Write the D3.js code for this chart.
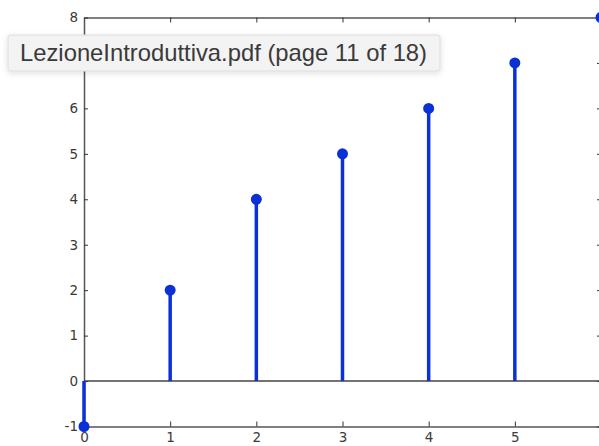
<!DOCTYPE html>
<html><head><meta charset="utf-8">
<script src="https://cdn.jsdelivr.net/npm/d3@7"></script>
<style>html,body{margin:0;padding:0;background:#fff;}svg{display:block;}</style>
</head><body>
<script>
const xValues = [0, 1, 2, 3, 4, 5, 6];
const yValues = [-1, 2, 4, 5, 6, 7, 8];
const xTicks = [0, 1, 2, 3, 4, 5, 6];
const xTickLabels = ["0", "1", "2", "3", "4", "5", ""];
const yTicks = [-1, 0, 1, 2, 3, 4, 5, 6, 7, 8];
const yTickLabels = ["-1", "0", "1", "2", "3", "4", "5", "6", "", "8"];
const tooltipText = "LezioneIntroduttiva.pdf (page 11 of 18)";

const W = 599, H = 446;
const svg = d3.select("body").append("svg").attr("width", W).attr("height", H);
const x = d3.scaleLinear().domain([0, 6]).range([84, 601]);
const y = d3.scaleLinear().domain([-1, 8]).range([426.5, 17.5]);
const axisColor = "#555";
const blue = "#0b30d6";

const gB = svg.append("g").attr("transform", `translate(0,${y(-1)})`)
  .call(d3.axisBottom(x).tickValues(xTicks).tickFormat((d, i) => xTickLabels[i]).tickSizeInner(-5).tickSizeOuter(0).tickPadding(6));
const gT = svg.append("g").attr("transform", `translate(0,${y(8)})`)
  .call(d3.axisTop(x).tickValues(xTicks).tickFormat("").tickSizeInner(-5).tickSizeOuter(0));
const gL = svg.append("g").attr("transform", `translate(${x(0)},0)`)
  .call(d3.axisLeft(y).tickValues(yTicks).tickFormat((d, i) => yTickLabels[i]).tickSizeInner(-4).tickSizeOuter(0).tickPadding(6));
const gR = svg.append("g").attr("transform", `translate(${x(6)},0)`)
  .call(d3.axisRight(y).tickValues(yTicks).tickFormat("").tickSizeInner(-4).tickSizeOuter(0));
[gB, gT, gL, gR].forEach(g => {
  g.attr("font-size", 13.5);
  g.select(".domain").attr("stroke", axisColor).attr("stroke-width", 1.5);
  g.selectAll(".tick line").attr("stroke", "#333").attr("stroke-width", 1);
  g.selectAll(".tick text").attr("fill", "#3a3a3a").attr("font-family", "DejaVu Sans, Arial, sans-serif").attr("font-size", 13.5);
});

svg.append("line").attr("x1", x(0)).attr("x2", x(6)).attr("y1", y(0)).attr("y2", y(0))
  .attr("stroke", "#444").attr("stroke-width", 1.5);

const data = xValues.map((v, i) => ({x: v, y: yValues[i]}));
svg.append("g").selectAll("line").data(data).join("line")
  .attr("x1", d => x(d.x)).attr("x2", d => x(d.x))
  .attr("y1", y(0)).attr("y2", d => y(d.y))
  .attr("stroke", blue).attr("stroke-width", 3.5);
svg.append("g").selectAll("circle").data(data).join("circle")
  .attr("cx", d => x(d.x)).attr("cy", d => y(d.y)).attr("r", 4.5)
  .attr("fill", blue).attr("stroke", blue).attr("stroke-width", 2);

const defs = svg.append("defs");
const f = defs.append("filter").attr("id", "sh").attr("x", "-10%").attr("y", "-50%").attr("width", "120%").attr("height", "200%");
f.append("feDropShadow").attr("dx", 0).attr("dy", 2).attr("stdDeviation", 3).attr("flood-color", "#000").attr("flood-opacity", 0.12);
const tip = svg.append("g");
tip.append("rect").attr("x", 8).attr("y", 35).attr("width", 432).attr("height", 36).attr("rx", 2)
  .attr("fill", "#f3f3f3").attr("stroke", "#dcdcdc").attr("stroke-width", 1).attr("filter", "url(#sh)");
tip.append("text").attr("x", 20).attr("y", 61).text(tooltipText)
  .attr("fill", "#3a3a3a").attr("font-family", "Liberation Sans, Helvetica, Arial, sans-serif").attr("font-size", 23.8);
</script>
</body></html>
